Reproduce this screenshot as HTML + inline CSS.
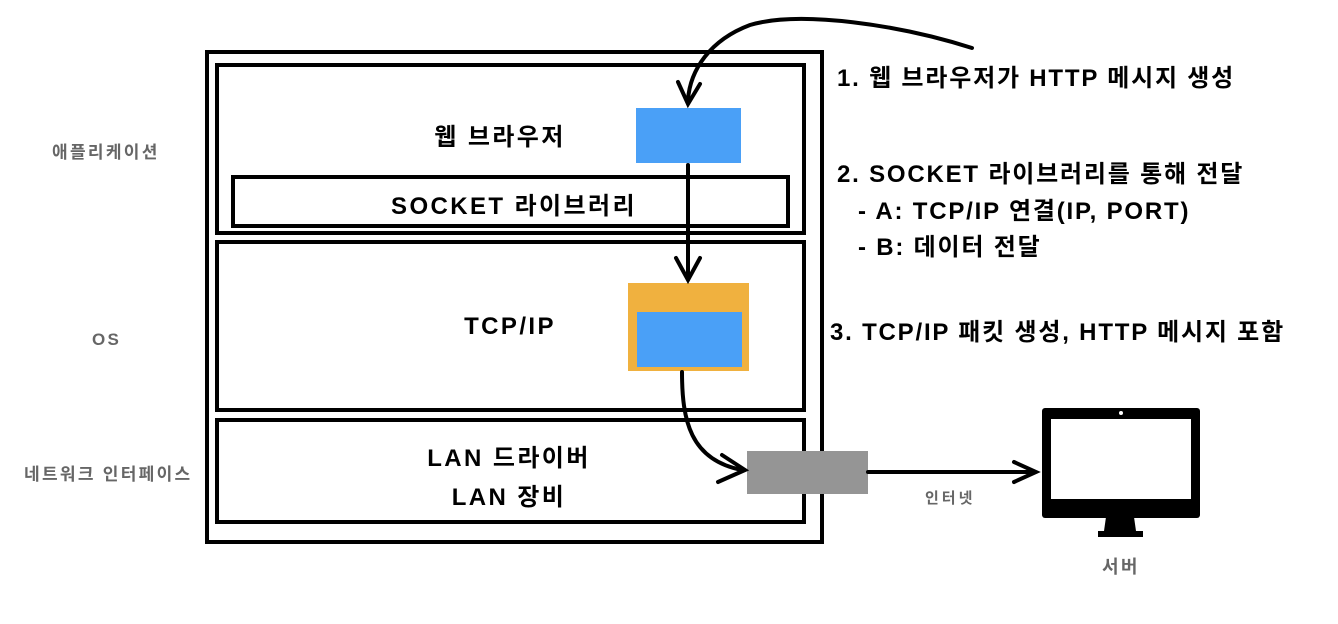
<!DOCTYPE html>
<html><head><meta charset="utf-8"><style>
body{margin:0;width:1338px;height:624px;background:#fff;position:relative;overflow:hidden;font-family:"Liberation Sans","Noto Sans CJK KR",sans-serif}
.b{position:absolute;border:4px solid #000;box-sizing:border-box}
.t{position:absolute;white-space:nowrap;font-weight:bold;color:#000}
.m{font-size:24px;letter-spacing:2.4px}
.r{font-size:24px;letter-spacing:1.8px}
.g{position:absolute;white-space:nowrap;font-weight:bold;color:#666;font-size:17px;letter-spacing:2.3px}
.c{transform:translateX(-50%)}
</style></head><body>
<div class="b" style="left:205px;top:50px;width:619px;height:494px"></div>
<div class="b" style="left:215px;top:63px;width:591px;height:172px"></div>
<div class="b" style="left:231px;top:175px;width:559px;height:53px"></div>
<div class="b" style="left:215px;top:240px;width:591px;height:172px"></div>
<div class="b" style="left:215px;top:418px;width:591px;height:106px"></div>
<div style="position:absolute;left:636px;top:108px;width:105px;height:55px;background:#4aa0f7"></div>
<div style="position:absolute;left:628px;top:283px;width:121px;height:88px;background:#f0b13f"></div>
<div style="position:absolute;left:637px;top:312px;width:105px;height:55px;background:#4aa0f7"></div>
<div style="position:absolute;left:747px;top:451px;width:121px;height:43px;background:#959595"></div>
<div class="t c m" style="left:500px;top:117px">웹 브라우저</div>
<div class="t c m" style="left:514px;top:186px">SOCKET 라이브러리</div>
<div class="t c m" style="left:510px;top:313px">TCP/IP</div>
<div class="t c m" style="left:509px;top:438px">LAN 드라이버</div>
<div class="t c m" style="left:509px;top:477px">LAN 장비</div>
<div class="g" style="left:52px;top:138px">애플리케이션</div>
<div class="g" style="left:92px;top:330px">OS</div>
<div class="g" style="left:24px;top:460px">네트워크 인터페이스</div>
<div class="g" style="left:925px;top:487px;font-size:15px;letter-spacing:3px">인터넷</div>
<div class="g" style="left:1102px;top:553px;font-size:18px">서버</div>
<div class="t r" style="left:837px;top:58px">1. 웹 브라우저가 HTTP 메시지 생성</div>
<div class="t r" style="left:837px;top:154px">2. SOCKET 라이브러리를 통해 전달</div>
<div class="t r" style="left:858px;top:191px">- A: TCP/IP 연결(IP, PORT)</div>
<div class="t r" style="left:858px;top:227px">- B: 데이터 전달</div>
<div class="t r" style="left:830px;top:312px">3. TCP/IP 패킷 생성, HTTP 메시지 포함</div>
<svg width="1338" height="624" style="position:absolute;left:0;top:0" fill="none" stroke="#000" stroke-width="4" stroke-linecap="round">
<path d="M972 48 C900 25 800 10 750 25 C710 40 690 70 688 100"/>
<path d="M678 82 L688 104 L700 84"/>
<path d="M688 165 L688 278"/>
<path d="M676 258 L688 280 L700 258"/>
<path d="M682 372 C682 420 690 460 742 470"/>
<path d="M722 455 L745 470 L718 482"/>
<path d="M868 472 L1032 472"/>
<path d="M1014 462 L1036 472 L1014 482"/>
<rect x="1042" y="408" width="158" height="110" rx="3" fill="#000" stroke="none"/>
<rect x="1051" y="419" width="140" height="80" fill="#fff" stroke="none"/>
<circle cx="1121" cy="413" r="2" fill="#fff" stroke="none"/>
<path d="M1106 517 L1134 517 L1136 531 L1104 531 Z" fill="#000" stroke="none"/>
<rect x="1098" y="531" width="45" height="6" fill="#000" stroke="none"/>
</svg>
</body></html>
